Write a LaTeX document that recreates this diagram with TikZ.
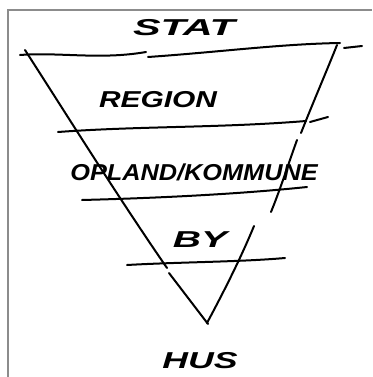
\documentclass[tikz,border=0pt]{standalone}
\usepackage{fontspec}
\setmainfont{Liberation Sans}
\begin{document}
\begin{tikzpicture}[x=1pt,y=-1pt,
  ink/.style={line width=2pt, line cap=round, line join=round},
  frame/.style={draw=black!45, line width=1.2pt},
  lbl/.style={font=\fontsize{23}{23}\selectfont\bfseries\itshape, inner sep=0pt}]
\useasboundingbox (0,0) rectangle (372,377);
% frame
\coordinate (fb) at (8,377);
\coordinate (fc) at (8,10);
\coordinate (fr) at (372,10);
\draw[frame] (fb) -- (fc) -- (fr);
% labels
\node[lbl] (stat)   at (184,28)  {\scalebox{1.8}[1]{STAT}};
\node[lbl] (region) at (158,100) {\scalebox{1.3}[1]{REGION}};
\node[lbl] (opland) at (194,172) {\scalebox{1.1}[1]{OPLAND/KOMMUNE}};
\node[lbl] (by)     at (200,240) {\scalebox{1.7}[1]{BY}};
\node[lbl] (hus)    at (200,361) {\scalebox{1.55}[1]{HUS}};
% horizontal lines
\coordinate (a1) at (20,55);  \coordinate (a2) at (146,52);
\coordinate (a3) at (148,57); \coordinate (a4) at (340,43);
\coordinate (a5) at (344,48); \coordinate (a6) at (362,46);
\draw[ink] (a1) .. controls (60,52) and (100,60) .. (a2);
\draw[ink] (a3) .. controls (220,52) and (280,44) .. (a4);
\draw[ink] (a5) -- (a6);
\coordinate (b1) at (58,132); \coordinate (b2) at (306,121);
\coordinate (b3) at (310,122); \coordinate (b4) at (328,117);
\draw[ink] (b1) .. controls (140,126) and (220,128) .. (b2);
\draw[ink] (b3) -- (b4);
\coordinate (c1) at (82,200); \coordinate (c2) at (307,187);
\draw[ink] (c1) .. controls (160,198) and (240,194) .. (c2);
\coordinate (d1) at (127,265); \coordinate (d2) at (285,258);
\draw[ink] (d1) .. controls (180,262) and (240,262) .. (d2);
% triangle edges
\coordinate (l1) at (25,50);  \coordinate (l2) at (167,268);
\coordinate (l3) at (169,273); \coordinate (apex) at (208,324);
\draw[ink] (l1) .. controls (70,120) and (120,200) .. (l2);
\draw[ink] (l3) -- (apex);
\coordinate (r1) at (337,45); \coordinate (r2) at (301,133);
\coordinate (r3) at (297,140); \coordinate (r4) at (271,212);
\coordinate (r5) at (254,226); \coordinate (r6) at (207,323);
\draw[ink] (r1) .. controls (325,75) and (312,105) .. (r2);
\draw[ink] (r3) .. controls (288,165) and (280,190) .. (r4);
\draw[ink] (r5) .. controls (240,260) and (222,295) .. (r6);
\end{tikzpicture}
\end{document}
